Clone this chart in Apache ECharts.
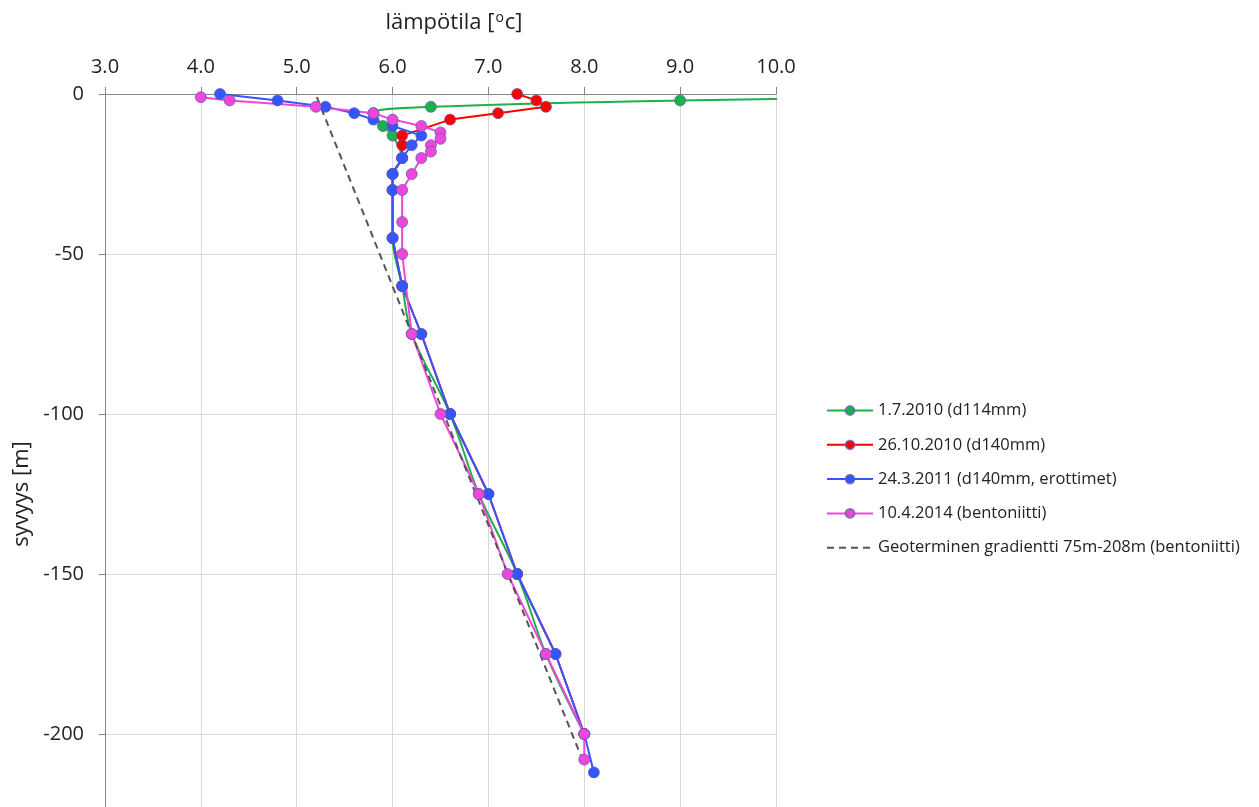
<!DOCTYPE html>
<html>
<head>
<meta charset="utf-8">
<script src="https://cdn.jsdelivr.net/npm/echarts@6/dist/echarts.min.js"></script>
<style>
  html, body { margin: 0; padding: 0; background: #fff; }
  #chart { width: 1259px; height: 807px; }
</style>
</head>
<body>
<div id="chart"></div>
<script>
const seriesNames = [
  '1.7.2010 (d114mm)',
  '26.10.2010 (d140mm)',
  '24.3.2011 (d140mm, erottimet)',
  '10.4.2014 (bentoniitti)',
  'Geoterminen gradientti 75m-208m (bentoniitti)'
]

// depth [m] / temperature [°C]
const greenDepth = [-1, -2, -4, -6, -10, -13, -20, -25, -30, -45, -60, -75, -100, -125, -150, -175, -200]
const greenTemp = [11.5, 9.0, 6.4, 5.8, 5.9, 6.0, 6.1, 6.0, 6.0, 6.0, 6.1, 6.2, 6.6, 6.9, 7.3, 7.6, 8.0]

const redDepth = [0, -2, -4, -6, -8, -13, -16, -20, -25, -30, -45, -60, -75, -100, -125, -150, -175, -200]
const redTemp = [7.3, 7.5, 7.6, 7.1, 6.6, 6.1, 6.1, 6.1, 6.0, 6.0, 6.0, 6.1, 6.3, 6.6, 7.0, 7.3, 7.7, 8.0]

const blueDepth = [0, -2, -4, -6, -8, -10, -13, -16, -20, -25, -30, -45, -60, -75, -100, -125, -150, -175, -200, -212]
const blueTemp = [4.2, 4.8, 5.3, 5.6, 5.8, 6.0, 6.3, 6.2, 6.1, 6.0, 6.0, 6.0, 6.1, 6.3, 6.6, 7.0, 7.3, 7.7, 8.0, 8.1]

const pinkDepth = [-1, -2, -4, -6, -8, -10, -12, -14, -16, -18, -20, -25, -30, -40, -50, -75, -100, -125, -150, -175, -200, -208]
const pinkTemp = [4.0, 4.3, 5.2, 5.8, 6.0, 6.3, 6.5, 6.5, 6.4, 6.4, 6.3, 6.2, 6.1, 6.1, 6.1, 6.2, 6.5, 6.9, 7.2, 7.6, 8.0, 8.0]

const gradDepth = [-1, -208]
const gradTemp = [5.21, 7.98]

const colors = ['#1db14c', '#ff0000', '#3356ff', '#f046dc', '#555555']

const pairs = (t, d) => t.map((v, i) => [v, d[i]])

const font = '"Open Sans", "Noto Sans", sans-serif'

const chart = echarts.init(document.getElementById('chart'))

const lineSeries = (idx, t, d, extra) => Object.assign({
  name: seriesNames[idx],
  type: 'line',
  data: pairs(t, d),
  symbol: 'circle',
  symbolSize: 11,
  lineStyle: { width: 2, color: colors[idx] },
  itemStyle: { color: colors[idx], borderColor: 'rgba(90,90,170,0.7)', borderWidth: 1 },
  emphasis: { disabled: true },
  clip: true
}, extra || {})

chart.setOption({
  animation: false,
  textStyle: { fontFamily: font },
  grid: { left: 105, top: 94, width: 671, height: 800, containLabel: false, outerBoundsMode: 'none' },
  legend: {
    orient: 'vertical',
    left: 821,
    top: 397,
    itemWidth: 46,
    itemHeight: 11,
    itemGap: 17.3,
    textStyle: { fontSize: 16.5, color: '#222', fontFamily: font },
    data: seriesNames.slice(0, 4).concat([{ name: seriesNames[4], itemStyle: { opacity: 0 } }])
  },
  xAxis: {
    type: 'value',
    position: 'top',
    min: 3,
    max: 10,
    interval: 1,
    name: '{a|lämpötila [}{s|o}{a|c]}',
    nameLocation: 'middle',
    nameGap: 60,
    nameTextStyle: {
      padding: [0, 0, 0, 27],
      rich: {
        a: { fontSize: 22, color: '#222', fontFamily: font },
        s: { fontSize: 14, color: '#222', fontFamily: font, verticalAlign: 'top', padding: [0, 1, 9, 1] }
      }
    },
    axisLine: { lineStyle: { color: '#868686', width: 1 } },
    axisTick: { show: true, inside: false, length: 7, lineStyle: { color: '#868686' } },
    axisLabel: { fontSize: 20, color: '#222', margin: 17, formatter: v => v.toFixed(1) },
    splitLine: { lineStyle: { color: '#d9d9d9', width: 1 } }
  },
  yAxis: {
    type: 'value',
    min: -250,
    max: 0,
    interval: 50,
    name: 'syvyys [m]',
    nameLocation: 'middle',
    nameRotate: 90,
    nameGap: 68,
    nameTextStyle: { fontSize: 22, color: '#222' },
    axisLine: { show: true, onZero: false, lineStyle: { color: '#868686', width: 1 } },
    axisTick: { show: true, inside: false, length: 6, lineStyle: { color: '#868686' } },
    axisLabel: { fontSize: 20, color: '#222', margin: 21 },
    splitLine: { lineStyle: { color: '#d9d9d9', width: 1 } }
  },
  series: [
    lineSeries(0, greenTemp, greenDepth, { smooth: 0.35 }),
    lineSeries(1, redTemp, redDepth),
    lineSeries(2, blueTemp, blueDepth),
    lineSeries(3, pinkTemp, pinkDepth),
    {
      name: seriesNames[4],
      type: 'line',
      data: pairs(gradTemp, gradDepth),
      symbol: 'none',
      lineStyle: { width: 2, color: colors[4], type: [7, 5] },
      itemStyle: { color: colors[4] },
      emphasis: { disabled: true }
    }
  ]
})
</script>
</body>
</html>
